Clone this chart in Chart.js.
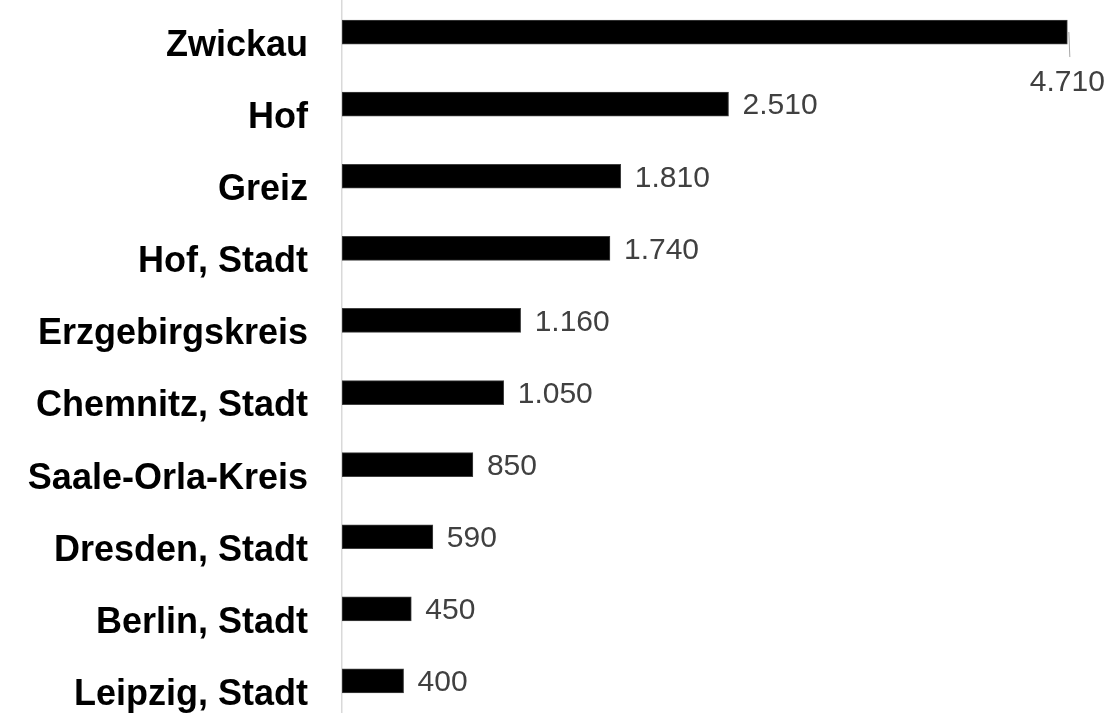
<!DOCTYPE html>
<html>
<head>
<meta charset="utf-8">
<script src="https://cdn.jsdelivr.net/npm/chart.js@4.4.0/dist/chart.umd.min.js"></script>
<style>
  html, body { margin: 0; padding: 0; background: #fff; overflow: hidden; }
  #wrap { position: absolute; left: 0; top: -4px; width: 1112px; height: 721px; }
</style>
</head>
<body>
<div id="wrap"><canvas id="rankingChart"></canvas></div>
<script>
const regions = ['Zwickau', 'Hof', 'Greiz', 'Hof, Stadt', 'Erzgebirgskreis', 'Chemnitz, Stadt',
                 'Saale-Orla-Kreis', 'Dresden, Stadt', 'Berlin, Stadt', 'Leipzig, Stadt'];
const values = [4710, 2510, 1810, 1740, 1160, 1050, 850, 590, 450, 400];

const fmt = v => String(v).replace(/\B(?=(\d{3})+(?!\d))/g, '.');

// value labels right of the bars, with a leader line when there's no room
const valueLabels = {
    id: 'valueLabels',
    afterDatasetsDraw(chart) {
        const ctx = chart.ctx;
        const area = chart.chartArea;
        ctx.save();
        ctx.font = '30px "Liberation Sans", Arial, sans-serif';
        ctx.fillStyle = '#404040';
        chart.getDatasetMeta(0).data.forEach((bar, i) => {
            const text = fmt(values[i]);
            const w = ctx.measureText(text).width;
            if (bar.x + 14 + w > area.right) {
                ctx.strokeStyle = '#a6a6a6';
                ctx.lineWidth = 1;
                ctx.beginPath();
                ctx.moveTo(bar.x + 1.5, bar.y);
                ctx.lineTo(bar.x + 2.5, bar.y + 25);
                ctx.stroke();
                ctx.textAlign = 'center';
                ctx.textBaseline = 'middle';
                ctx.fillText(text, bar.x, bar.y + 51);
            } else {
                ctx.textAlign = 'left';
                ctx.textBaseline = 'middle';
                ctx.fillText(text, bar.x + 14, bar.y + 2);
            }
        });
        ctx.restore();
    }
};

new Chart(document.getElementById('rankingChart'), {
    type: 'bar',
    data: {
        labels: regions,
        datasets: [{
            data: values,
            backgroundColor: '#000000',
            borderColor: '#404040',
            borderWidth: 1,
            borderSkipped: false,
            barThickness: 24
        }]
    },
    options: {
        indexAxis: 'y',
        responsive: true,
        maintainAspectRatio: false,
        animation: false,
        layout: { padding: 0 },
        plugins: {
            legend: { display: false },
            tooltip: { enabled: false }
        },
        scales: {
            x: {
                display: false,
                min: 0,
                max: 5000
            },
            y: {
                afterFit(scale) {
                    scale.width = 342;
                    scale.paddingTop = 0;
                    scale.paddingBottom = 0;
                },
                grid: { display: false, drawTicks: false },
                border: { display: true, color: '#d9d9d9', width: 1.5 },
                ticks: {
                    color: '#000000',
                    padding: 34,
                    labelOffset: 14,
                    font: { family: '"Liberation Sans", Arial, sans-serif', size: 36, weight: 'bold' }
                }
            }
        }
    },
    plugins: [valueLabels]
});
</script>
</body>
</html>
